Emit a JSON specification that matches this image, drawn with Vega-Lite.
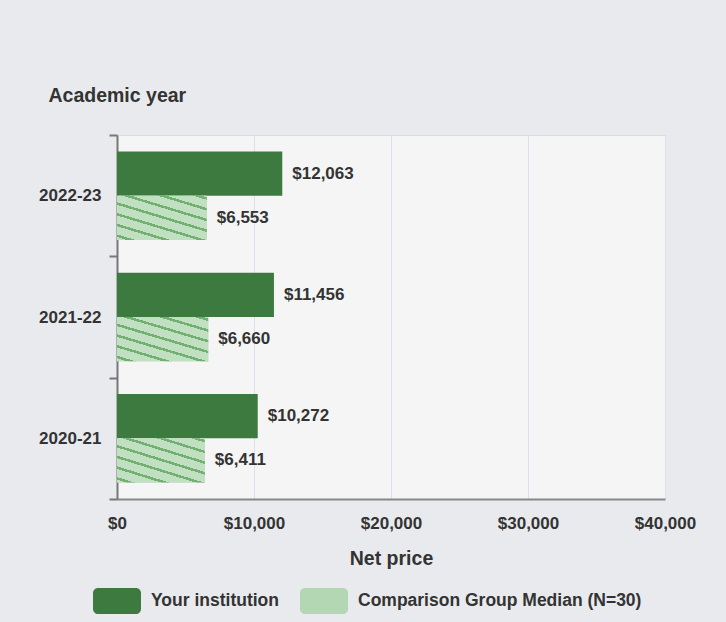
{
  "$schema": "https://vega.github.io/schema/vega-lite/v6.json",
  "width": 548,
  "height": 364,
  "autosize": {"type": "none"},
  "padding": {"left": 117, "top": 135, "right": 61, "bottom": 123},
  "background": "#e9eaee",
  "config": {
    "font": "Liberation Sans",
    "view": {"fill": "#f5f5f5", "stroke": "#d9dbe3", "strokeWidth": 1},
    "axis": {
      "labelFont": "Liberation Sans",
      "labelFontSize": 17,
      "labelFontWeight": "bold",
      "labelColor": "#333333",
      "titleFont": "Liberation Sans",
      "titleFontSize": 19.5,
      "titleFontWeight": "bold",
      "titleColor": "#333333"
    }
  },
  "data": {
    "values": [
      {"year": "2022-23", "series": "Your institution", "value": 12063},
      {"year": "2022-23", "series": "Comparison Group Median (N=30)", "value": 6553},
      {"year": "2021-22", "series": "Your institution", "value": 11456},
      {"year": "2021-22", "series": "Comparison Group Median (N=30)", "value": 6660},
      {"year": "2020-21", "series": "Your institution", "value": 10272},
      {"year": "2020-21", "series": "Comparison Group Median (N=30)", "value": 6411}
    ]
  },
  "encoding": {
    "y": {
      "field": "year",
      "type": "nominal",
      "sort": ["2022-23", "2021-22", "2020-21"],
      "scale": {"paddingInner": 0, "paddingOuter": 0},
      "axis": {
        "title": "Academic year",
        "titleAngle": 0,
        "titleAlign": "left",
        "titleBaseline": "alphabetic",
        "titleX": -69,
        "titleY": -34,
        "labelPadding": 8,
        "tickSize": 8,
        "tickBand": "extent",
        "tickWidth": 2,
        "tickColor": "#777777",
        "domainColor": "#777777",
        "domainWidth": 2,
        "grid": false
      }
    },
    "yOffset": {
      "field": "series",
      "type": "nominal",
      "sort": ["Your institution", "Comparison Group Median (N=30)"],
      "scale": {"paddingInner": 0, "paddingOuter": 0.37}
    },
    "x": {
      "field": "value",
      "type": "quantitative",
      "scale": {"domain": [0, 40000], "nice": false},
      "axis": {
        "title": "Net price",
        "titleBaseline": "alphabetic",
        "titleY": 65,
        "values": [0, 10000, 20000, 30000, 40000],
        "format": "$,.0f",
        "ticks": false,
        "labelPadding": 16,
        "labelFlush": false,
        "domainColor": "#888888",
        "domainWidth": 2,
        "grid": true,
        "gridColor": "#dde0ec",
        "gridWidth": 1
      }
    }
  },
  "layer": [
    {
      "mark": {"type": "bar"},
      "encoding": {
        "fill": {
          "field": "series",
          "type": "nominal",
          "scale": {
            "domain": ["Your institution", "Comparison Group Median (N=30)"],
            "range": ["#3d7a3f", "#b3d6b3"]
          },
          "legend": {
            "title": null,
            "orient": "none",
            "legendX": -24,
            "legendY": 442,
            "direction": "horizontal",
            "symbolType": "M-0.79,-0.54 H0.79 A0.21,0.21 0 0 1 1,-0.33 V0.33 A0.21,0.21 0 0 1 0.79,0.54 H-0.79 A0.21,0.21 0 0 1 -1,0.33 V-0.33 A0.21,0.21 0 0 1 -0.79,-0.54 Z",
            "symbolSize": 2304,
            "symbolStrokeWidth": 0,
            "symbolOpacity": 1,
            "labelFont": "Liberation Sans",
            "labelFontSize": 17.5,
            "labelFontWeight": "bold",
            "labelColor": "#333333",
            "labelOffset": 10,
            "columnPadding": 21,
            "labelLimit": 400
          }
        }
      }
    },
    {
      "transform": [{"filter": "datum.series === 'Comparison Group Median (N=30)'"}],
      "mark": {
        "type": "bar",
        "fill": {
          "gradient": "linear",
          "x1": 0, "y1": 1, "x2": 0.72, "y2": -0.172,
          "stops": [
            {"offset": 0, "color": "#c1dfc1"},
            {"offset": 0.042, "color": "#c1dfc1"},
            {"offset": 0.042, "color": "#72b072"},
            {"offset": 0.078, "color": "#72b072"},
            {"offset": 0.078, "color": "#c1dfc1"},
            {"offset": 0.192, "color": "#c1dfc1"},
            {"offset": 0.192, "color": "#72b072"},
            {"offset": 0.228, "color": "#72b072"},
            {"offset": 0.228, "color": "#c1dfc1"},
            {"offset": 0.342, "color": "#c1dfc1"},
            {"offset": 0.342, "color": "#72b072"},
            {"offset": 0.378, "color": "#72b072"},
            {"offset": 0.378, "color": "#c1dfc1"},
            {"offset": 0.492, "color": "#c1dfc1"},
            {"offset": 0.492, "color": "#72b072"},
            {"offset": 0.528, "color": "#72b072"},
            {"offset": 0.528, "color": "#c1dfc1"},
            {"offset": 0.642, "color": "#c1dfc1"},
            {"offset": 0.642, "color": "#72b072"},
            {"offset": 0.678, "color": "#72b072"},
            {"offset": 0.678, "color": "#c1dfc1"},
            {"offset": 0.792, "color": "#c1dfc1"},
            {"offset": 0.792, "color": "#72b072"},
            {"offset": 0.828, "color": "#72b072"},
            {"offset": 0.828, "color": "#c1dfc1"},
            {"offset": 0.942, "color": "#c1dfc1"},
            {"offset": 0.942, "color": "#72b072"},
            {"offset": 0.978, "color": "#72b072"},
            {"offset": 0.978, "color": "#c1dfc1"},
            {"offset": 1, "color": "#c1dfc1"}
          ]
        }
      },
      "encoding": {}
    },
    {
      "mark": {
        "type": "text",
        "align": "left",
        "baseline": "middle",
        "dx": 10,
        "font": "Liberation Sans",
        "fontSize": 17,
        "fontWeight": "bold",
        "color": "#333333"
      },
      "encoding": {
        "text": {"field": "value", "type": "quantitative", "format": "$,.0f"}
      }
    }
  ]
}
